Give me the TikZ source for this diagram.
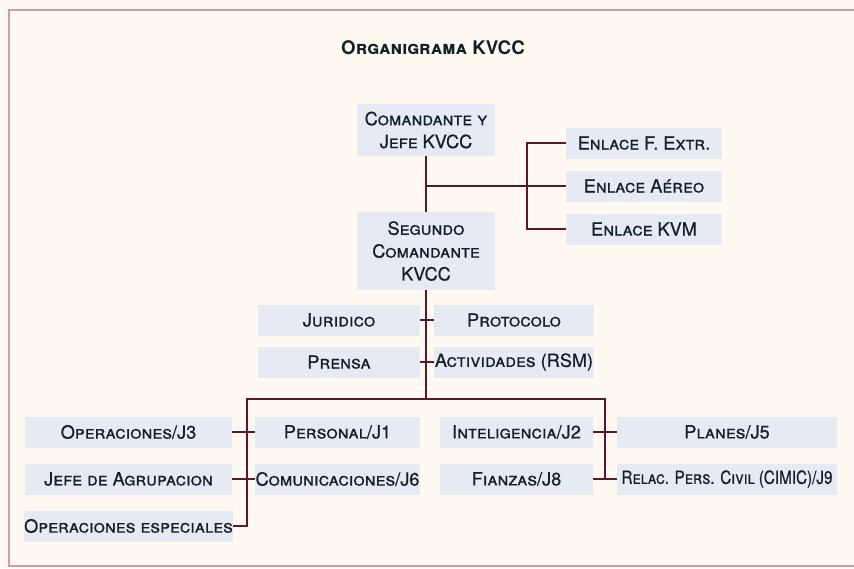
\documentclass[tikz,border=0pt]{standalone}
\usepackage{fontspec}
\usepackage{graphicx}
\setmainfont{TeX Gyre Heros}
\newfontfamily\boxfont{TeX Gyre Heros}[FakeBold=0.6]
\usepackage{tikz}
\usetikzlibrary{positioning}

\definecolor{paper}{RGB}{255,249,242}
\definecolor{boxblue}{RGB}{229,234,243}
\definecolor{ink}{RGB}{18,32,42}
\definecolor{wine}{RGB}{92,24,42}
\definecolor{framecol}{RGB}{205,160,168}

\begin{document}
\begin{tikzpicture}[
    x=0.3mm, y=-0.3mm,
    box/.style={rectangle, fill=boxblue, text=ink, inner sep=0pt, minimum height=9.3mm, align=center, font=\boxfont\scshape\fontsize{15.5}{19.5}\selectfont},
    link/.style={wine, line width=0.6mm}
]
\useasboundingbox (0,0) rectangle (854,568);
\fill[paper] (0,0) rectangle (854,568);
\draw[framecol, line width=0.5mm] (856,10) -- (9,10) -- (9,566) -- (856,566);

\node[font=\bfseries\scshape\fontsize{16}{18}\selectfont, text=ink] (title) at (433,48) {Organigrama KVCC};

% mando
\node[box, minimum width=41.4mm, minimum height=15.6mm] (jefe) at (426,130) {Comandante y\\Jefe KVCC};
\node[box, minimum width=41.4mm, minimum height=23.4mm] (segundo) at (426,251) {Segundo\\Comandante\\KVCC};
\node[box, minimum width=46.8mm] (extr) at (644,143) {Enlace F. Extr.};
\node[box, minimum width=46.8mm] (aereo) at (644,186) {Enlace Aéreo};
\node[box, minimum width=46.8mm] (kvm) at (644,229) {Enlace KVM};

% staff
\node[box, minimum width=48.6mm] (juridico) at (339,320) {Juridico};
\node[box, minimum width=48mm] (protocolo) at (514,320) {Protocolo};
\node[box, minimum width=48.6mm] (prensa) at (339,362) {Prensa};
\node[box, minimum width=48mm] (activ) at (514,362) {Actividades (RSM)};

% jefaturas
\node[box, minimum width=62.1mm] (j3) at (128.5,432) {Operaciones/J3};
\node[box, minimum width=62.1mm] (agrup) at (128.5,479) {Jefe de Agrupacion};
\node[box, minimum width=62.1mm] (opesp) at (128.5,526) {Operaciones especiales};
\node[box, minimum width=49.5mm] (j1) at (337.5,432) {Personal/J1};
\node[box, minimum width=49.5mm] (j6) at (337.5,479) {Comunicaciones/J6};
\node[box, minimum width=45.9mm] (j2) at (516.5,432) {Inteligencia/J2};
\node[box, minimum width=45.9mm] (j8) at (516.5,479) {Fianzas/J8};
\node[box, minimum width=66mm] (j5) at (727,432) {Planes/J5};
\node[box, minimum width=66mm] (j9) at (727,479) {\scalebox{0.84}[1]{Relac. Pers. Civil (CIMIC)/J9}};

\coordinate (enl) at (426,186);
\coordinate (bra) at (527,186);
\coordinate (hub) at (426,399);
\coordinate (left) at (247,399);
\coordinate (right) at (605,399);

\draw[link] (jefe) -- (segundo);
\draw[link] (enl) -- (aereo.west);
\draw[link] (extr.west) -| (bra) |- (kvm.west);

\draw[link] (segundo) -- (hub);
\draw[link] (juridico.east) -- (protocolo.west);
\draw[link] (prensa.east) -- (activ.west);

\draw[link] (opesp.east) -| (left) -- (right) |- (j9.west);
\draw[link] (j3.east) -- (j1.west);
\draw[link] (agrup.east) -- (j6.west);
\draw[link] (j2.east) -- (j5.west);
\draw[link] (j8.east) -- (j9.west);

\end{tikzpicture}
\end{document}
